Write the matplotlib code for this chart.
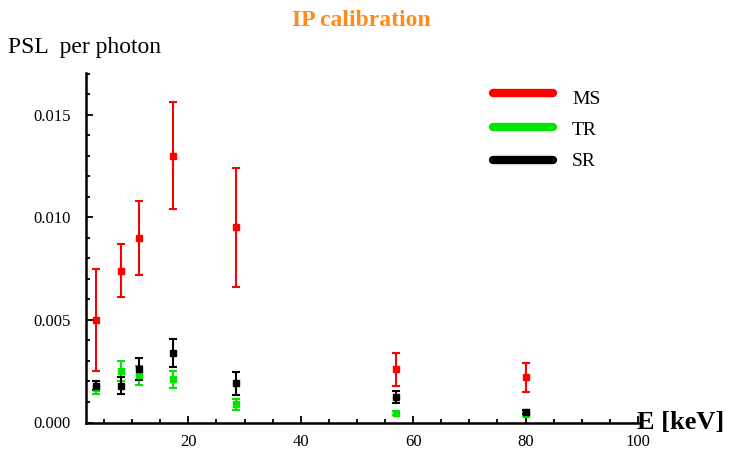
import matplotlib
matplotlib.use("Agg")
import matplotlib.pyplot as plt
from matplotlib.lines import Line2D
from matplotlib.ticker import MultipleLocator, FormatStrFormatter

# Photon energies (keV) and PSL per photon for each detector type
energy = [3.5, 8.0, 11.3, 17.2, 28.5, 57.0, 80.0]

ms_val = [0.0050, 0.0074, 0.0090, 0.0130, 0.0095, 0.0026, 0.0022]
ms_err = [0.0025, 0.0013, 0.0018, 0.0026, 0.0029, 0.0008, 0.0007]

tr_val = [0.0017, 0.0025, 0.0023, 0.0021, 0.00088, 0.00045, 0.00041]
tr_err = [0.0003, 0.0005, 0.00045, 0.00043, 0.00025, 0.0001, 0.0001]

sr_val = [0.0018, 0.0018, 0.0026, 0.0034, 0.0019, 0.00125, 0.00053]
sr_err = [0.0002, 0.0004, 0.00055, 0.00068, 0.00055, 0.0003, 0.0001]

labels = ["MS", "TR", "SR"]
colors = ["#ff0000", "#00e600", "#000000"]

serif = "Liberation Serif"
plt.rcParams["font.family"] = serif

W, H = 729, 449
fig = plt.figure(figsize=(W / 100, H / 100), dpi=100)
ax = fig.add_axes([86 / W, 26.5 / H, (638 - 86) / W, (422.5 - 72.7) / H])

for vals, errs, col in zip([ms_val, tr_val, sr_val], [ms_err, tr_err, sr_err], colors):
    ax.errorbar(energy, vals, yerr=errs, fmt="s", color=col, ecolor=col,
                markersize=3.8, elinewidth=1.5, capsize=3, capthick=1.5)

ax.set_xlim(1.8, 100)
ax.set_ylim(0, 0.01704)

for side in ["top", "right"]:
    ax.spines[side].set_visible(False)
for side in ["left", "bottom"]:
    ax.spines[side].set_linewidth(1.8)

ax.xaxis.set_major_locator(MultipleLocator(20))
ax.xaxis.set_minor_locator(MultipleLocator(5))
ax.yaxis.set_major_locator(MultipleLocator(0.005))
ax.yaxis.set_minor_locator(MultipleLocator(0.001))
ax.yaxis.set_major_formatter(FormatStrFormatter("%.3f"))
ax.tick_params(which="both", direction="in", width=1.3, labelsize=12)
ax.tick_params(axis="y", pad=11)
ax.tick_params(axis="x", pad=8)
ax.tick_params(which="major", length=5)
ax.tick_params(which="minor", length=3)
ax.set_xticks([20, 40, 60, 80, 100])

fig.text(361 / W, 1 - 20 / H, "IP calibration", color="#ff8c1a",
         fontsize=17, fontweight="bold", ha="center", va="center")
fig.text(8 / W, 1 - 47 / H, "PSL  per photon", fontsize=17,
         ha="left", va="center")
fig.text(637 / W, 1 - 423 / H, "E [keV]", fontsize=19, fontweight="bold",
         ha="left", va="center")

# legend drawn as thick rounded strokes with labels to the right
leg_y = [93, 127, 160]
lab_y = [99, 131, 162]
for lab, col, ly, ty in zip(labels, colors, leg_y, lab_y):
    fig.add_artist(Line2D([493 / W, 553 / W], [1 - ly / H, 1 - ly / H],
                          color=col, lw=6, solid_capstyle="round"))
    fig.text(572 / W, 1 - ty / H, lab, fontsize=14, ha="left", va="center")

fig.savefig("out.png", dpi=100)
